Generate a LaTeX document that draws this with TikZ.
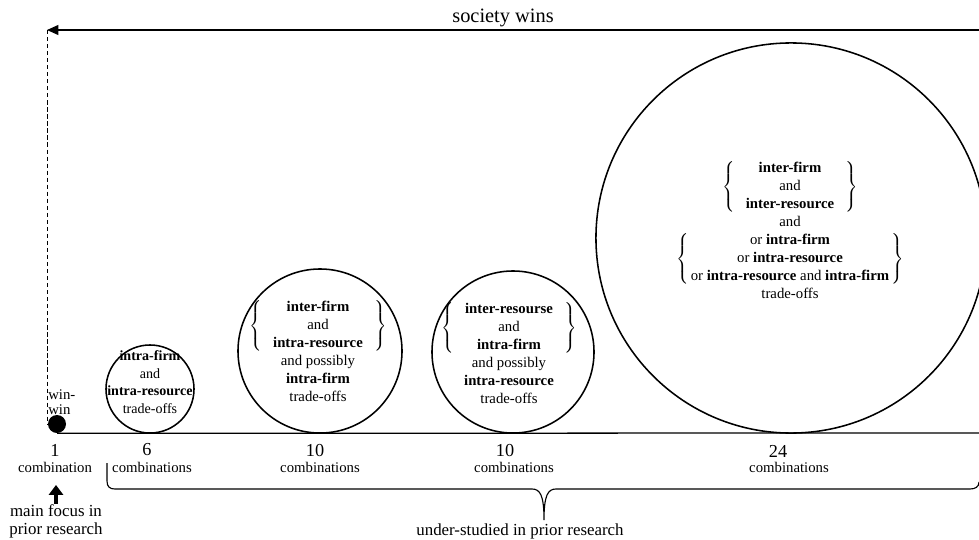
\documentclass[tikz,border=0pt]{standalone}
\usepackage{fontspec}
\setmainfont{Liberation Serif}
\usetikzlibrary{arrows.meta,positioning}

\newcommand{\tradegroup}[2][8pt]{{\setlength{\tabcolsep}{#1}$\left\{\begin{tabular}{c}#2\end{tabular}\right\}$}}

\begin{document}
\begin{tikzpicture}[x=0.025cm,y=-0.025cm,
    bubble/.style={draw,circle,line width=1.1pt,inner sep=0pt},
    bubbletext/.style={inner sep=0pt,font=\fontsize{10.5}{12.8}\selectfont},
    count/.style={inner sep=0pt,font=\fontsize{13}{13}\selectfont},
    combos/.style={inner sep=0pt,font=\fontsize{10.5}{12}\selectfont}]
\useasboundingbox (0,0) rectangle (979,539);

% Draw the society wins arrow
\coordinate (swEnd) at (979,30);
\coordinate (swTip) at (47,30);
\draw[line width=0.8pt,-{Triangle[length=8pt,width=7pt]}] (swEnd) -- (swTip);
\node[inner sep=0pt,font=\fontsize{14.5}{16}\selectfont] (sw) at (503,18) {society wins};

% Draw the win-win point and the axis
\node[circle,fill=black,minimum size=0.45cm,inner sep=0pt] (ww) at (57,424) {};
\draw[densely dashed,line width=0.6pt] (swTip) -- (swTip |- ww.west);
\node[anchor=west,align=left,inner sep=0pt,font=\fontsize{10.5}{10.7}\selectfont] (wwl) at (48,402) {win-\\win};
\coordinate (axisEnd) at (979,433);
\draw[line width=0.9pt] (ww.south) -- (axisEnd);

% Draw the circles
\node[bubble,minimum size=2.2cm] (c1) at (150,389) {};
\node[bubble,minimum size=4.1cm] (c2) at (320,351) {};
\node[bubble,minimum size=4.05cm] (c3) at (513,352) {};
\node[bubble,minimum size=9.75cm] (c4) at (791,238) {};

% Texts in the circles
\node[bubbletext,align=center,font=\fontsize{10}{12.6}\selectfont] (t1) at (150,382)
    {\textbf{intra-firm}\\and\\\textbf{intra-resource}\\trade-offs};
\node[bubbletext] (t2) at (318,353) {\begin{tabular}{@{}c@{}}
    \tradegroup{\textbf{inter-firm}\\and\\\textbf{intra-resource}}\\
    and possibly\\ \textbf{intra-firm}\\ trade-offs\end{tabular}};
\node[bubbletext] (t3) at (509,355) {\begin{tabular}{@{}c@{}}
    \tradegroup{\textbf{inter-resourse}\\and\\\textbf{intra-firm}}\\
    and possibly\\ \textbf{intra-resource}\\ trade-offs\end{tabular}};
\node[bubbletext] (t4) at (790,232) {\begin{tabular}{@{}c@{}}
    \tradegroup{\textbf{inter-firm}\\and\\\textbf{inter-resource}}\\
    and\\
    \tradegroup[1.5pt]{or \textbf{intra-firm}\\or \textbf{intra-resource}\\or \textbf{intra-resource} and \textbf{intra-firm}}\\
    trade-offs\end{tabular}};

% Numbers of combinations
\node[count] (n1) at (55,450) {1};
\node[combos] (k1) at (55,467) {combination};
\node[count] (n2) at (147,450) {6};
\node[combos] (k2) at (152,467) {combinations};
\node[count] (n3) at (315,451) {10};
\node[combos] (k3) at (320,467) {combinations};
\node[count] (n4) at (505,451) {10};
\node[combos] (k4) at (514,467) {combinations};
\node[count] (n5) at (778,451) {24};
\node[combos] (k5) at (789,467) {combinations};

% Main focus arrow
\node[align=center,inner sep=0pt,font=\fontsize{12}{13}\selectfont] (mf) at (56,521) {main focus in\\prior research};
\coordinate (mfTip) at (55,485);
\draw[line width=3pt,-{Triangle[length=7pt,width=10pt]}] (mf.north) -- (mf.north |- mfTip);

% Bracket under the under-studied combinations
\coordinate (brL) at (107,463);
\coordinate (brM) at (544,520);
\coordinate (brR) at (979,482);
\draw[line width=0.8pt] (brL) -- (107,481) .. controls (107,487) and (110,489) .. (115,489)
    -- (532,489) .. controls (540,489) and (544,495) .. (brM)
    .. controls (544,495) and (548,489) .. (556,489)
    -- (970,489) .. controls (975,489) and (979,487) .. (brR);
\node[inner sep=0pt,font=\fontsize{12}{13}\selectfont] (us) at (520,531) {under-studied in prior research};

\end{tikzpicture}
\end{document}
